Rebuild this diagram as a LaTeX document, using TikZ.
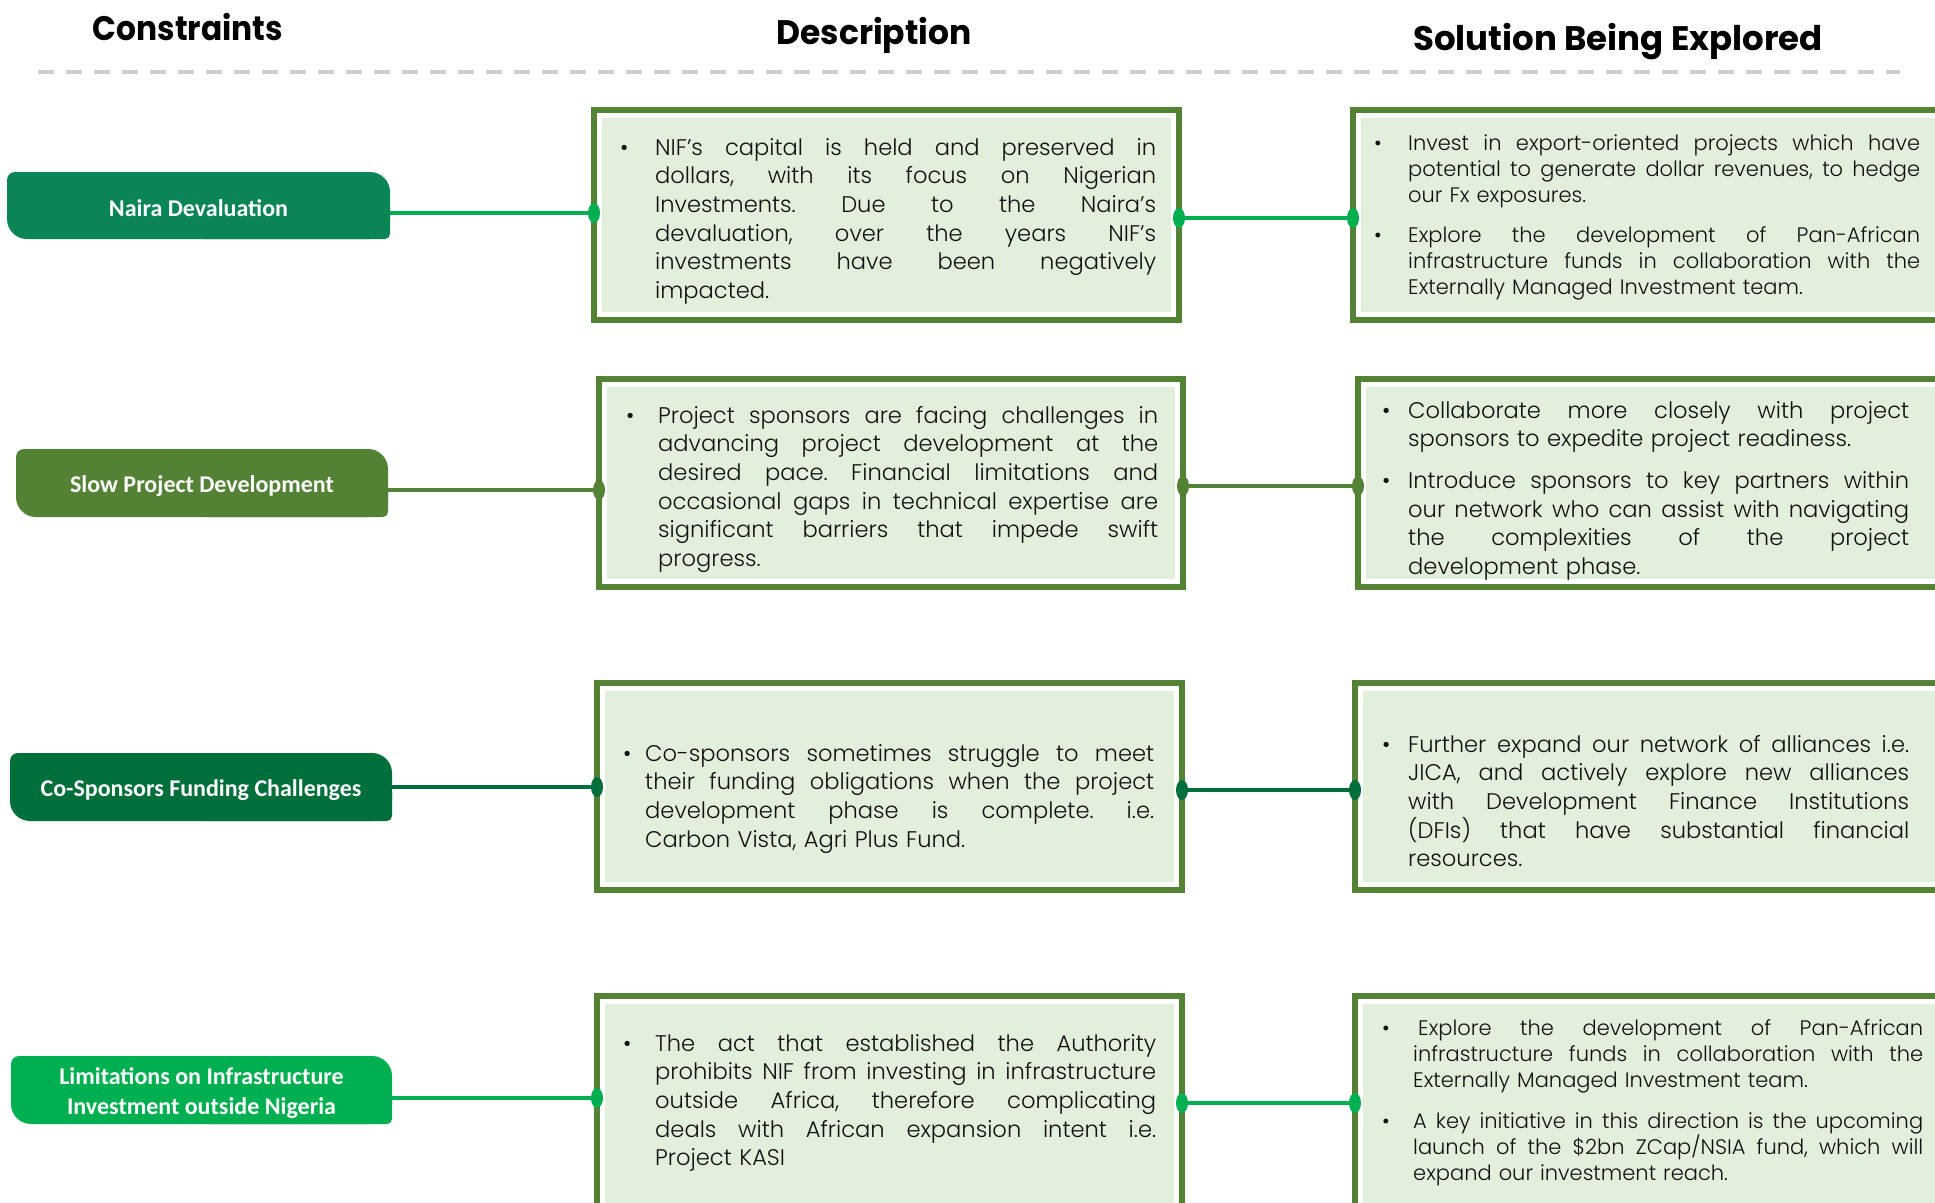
\documentclass[tikz,border=0pt]{standalone}
\usepackage{fontspec}
\usepackage{graphicx}
\setmainfont{Poppins Light}
\newfontfamily\headfont{Poppins}
\newfontfamily\pillfont{Carlito}
\usetikzlibrary{calc}
\pgfdeclarelayer{bg}
\pgfsetlayers{bg,main}
\definecolor{borderg}{HTML}{548235}
\definecolor{fillg}{HTML}{E2EFDA}
\definecolor{brightg}{HTML}{00B050}
\definecolor{darkg}{HTML}{006F3A}
\definecolor{tealg}{HTML}{0A8555}
\definecolor{dashgray}{HTML}{CFCFCF}
\definecolor{txtc}{HTML}{111111}
\hbadness=10000
\hfuzz=20pt
\newlength\hangw
\newlength\textw
\newcommand\bulx{\makebox[\hangw][l]{\textbullet}}
\newcommand\indx{\hspace*{\hangw}}
\newcommand\jst[1]{{\spaceskip=0pt\xspaceskip=0pt\makebox[\textw][s]{#1}}}
\newcommand\setw[2]{\setlength\hangw{#1}\setlength\textw{#2}}
\tikzset{
  gbox/.style={draw=borderg, line width=6pt, fill=white, inner sep=0pt, rectangle},
  pilltxt/.style={inner sep=0pt, text=white, font=\pillfont\bfseries\fontsize{24}{29.5}\selectfont, align=center},
  bodytxt/.style={inner sep=0pt, anchor=base west, align=left, text width=620pt, text=txtc},
  bigtxt/.style={bodytxt, font=\fontsize{22.6}{28.7}\selectfont\frenchspacing},
  smalltxt/.style={bodytxt, font=\fontsize{21}{26}\selectfont\frenchspacing},
  conn/.style={line width=4pt},
  hdr/.style={font=\headfont\bfseries\fontsize{34}{40}\selectfont, inner sep=0pt, text=black},
}
\newcommand\gbx[5]{%
  \node[gbox, minimum width={#4-#2-6}, minimum height={#5-#3-6}] (#1) at ({(#2+#4)/2},{(#3+#5)/2}) {};
  \fill[fillg] ($(#1.north west)+(11,11)$) rectangle ($(#1.south east)+(-11,-11)$);
}
\newcommand\pil[7]{%
  \node[pilltxt, minimum width={#4-#2}] (#1) at ({(#2+#4)/2},{(#3+#5)/2+3}) {#7};
  \begin{pgfonlayer}{bg}
    \fill[#6, rounded corners=20pt] (#2,#3) rectangle (#4,#5);
    \fill[#6, rounded corners=8pt] (#2,#3) rectangle ({(#2+#4)/2},{(#3+#5)/2});
    \fill[#6, rounded corners=5pt] ({(#2+#4)/2},{(#3+#5)/2}) rectangle (#4,#5);
  \end{pgfonlayer}
}
\begin{document}
\begin{tikzpicture}[x=1pt,y=-1pt]
\useasboundingbox (0,0) rectangle (1935,1202);
\begin{pgfonlayer}{bg}
\fill[white] (0,0) rectangle (1935,1202);
\end{pgfonlayer}
\clip (0,0) rectangle (1935,1202);

% headers
\node[hdr] (h1) at (188,27) {\scalebox{0.92}[1]{Constraints}};
\node[hdr] (h2) at (874,35) {\scalebox{0.97}[1]{Description}};
\node[hdr] (h3) at (1618,42) {Solution Being Explored};
\coordinate (dl) at (38,72);
\coordinate (dr) at (1900,72);
\draw[dashgray, line width=4pt, dash pattern=on 16pt off 12pt] (dl) -- (dr);

% pills
\pil{p1}{7}{172}{390}{239}{tealg}{Naira Devaluation}
\pil{p2}{16}{449}{388}{517}{borderg}{Slow Project Development}
\pil{p3}{10}{753}{392}{821}{darkg}{Co-Sponsors Funding Challenges}
\pil{p4}{11}{1056}{392}{1124}{brightg}{Limitations on Infrastructure\\Investment outside Nigeria}

% boxes
\gbx{d1}{591}{107}{1182}{323}
\gbx{s1}{1350}{107}{1965}{323}
\gbx{d2}{596}{376}{1186}{590}
\gbx{s2}{1355}{376}{1965}{590}
\gbx{d3}{594}{680}{1185}{893}
\gbx{s3}{1352}{680}{1965}{893}
\gbx{d4}{594}{993}{1185}{1240}
\gbx{s4}{1352}{993}{1965}{1240}

% connectors
\coordinate (y1a) at (0,213); \coordinate (y1b) at (0,218);
\coordinate (y2a) at (0,490); \coordinate (y2b) at (0,486);
\coordinate (y3a) at (0,787); \coordinate (y3b) at (0,790);
\coordinate (y4a) at (0,1098); \coordinate (y4b) at (0,1103);

\draw[conn, brightg] (p1.east |- y1a) -- (d1.west |- y1a);
\draw[conn, brightg] (d1.east |- y1b) -- (s1.west |- y1b);
\fill[brightg] ($(d1.west |- y1a)+(3,0)$) ellipse (6 and 10);
\fill[brightg] ($(d1.east |- y1b)+(-3,0)$) ellipse (6 and 10);
\fill[brightg] ($(s1.west |- y1b)+(3,0)$) ellipse (6 and 10);

\draw[conn, borderg] (p2.east |- y2a) -- (d2.west |- y2a);
\draw[conn, borderg] (d2.east |- y2b) -- (s2.west |- y2b);
\fill[borderg] ($(d2.west |- y2a)+(3,0)$) ellipse (6 and 10);
\fill[borderg] ($(d2.east |- y2b)+(-3,0)$) ellipse (6 and 10);
\fill[borderg] ($(s2.west |- y2b)+(3,0)$) ellipse (6 and 10);

\draw[conn, darkg] (p3.east |- y3a) -- (d3.west |- y3a);
\draw[conn, darkg] (d3.east |- y3b) -- (s3.west |- y3b);
\fill[darkg] ($(d3.west |- y3a)+(3,0)$) ellipse (6 and 10);
\fill[darkg] ($(d3.east |- y3b)+(-3,0)$) ellipse (6 and 10);
\fill[darkg] ($(s3.west |- y3b)+(3,0)$) ellipse (6 and 10);

\draw[conn, brightg] (p4.east |- y4a) -- (d4.west |- y4a);
\draw[conn, brightg] (d4.east |- y4b) -- (s4.west |- y4b);
\fill[brightg] ($(d4.west |- y4a)+(3,0)$) ellipse (6 and 10);
\fill[brightg] ($(d4.east |- y4b)+(-3,0)$) ellipse (6 and 10);
\fill[brightg] ($(s4.west |- y4b)+(3,0)$) ellipse (6 and 10);

% description texts
\node[bigtxt] (t1) at (620,155) {\setw{35pt}{501pt}%
\bulx\jst{NIF’s capital is held and preserved in}\\
\indx\jst{dollars, with its focus on Nigerian}\\
\indx\jst{Investments. Due to the Naira’s}\\
\indx\jst{devaluation, over the years NIF’s}\\
\indx\jst{investments have been negatively}\\
\indx impacted.};

\node[bigtxt] (t2) at (626,423) {\setw{32pt}{500pt}%
\bulx\jst{Project sponsors are facing challenges in}\\
\indx\jst{advancing project development at the}\\
\indx\jst{desired pace. Financial limitations and}\\
\indx\jst{occasional gaps in technical expertise are}\\
\indx\jst{significant barriers that impede swift}\\
\indx progress.};

\node[bigtxt] (t3) at (623,761) {\setw{22pt}{509pt}%
\bulx\jst{Co-sponsors sometimes struggle to meet}\\
\indx\jst{their funding obligations when the project}\\
\indx\jst{development phase is complete. i.e.}\\
\indx Carbon Vista, Agri Plus Fund.};

\node[bigtxt] (t4) at (623,1051) {\setw{32pt}{501pt}%
\bulx\jst{The act that established the Authority}\\
\indx\jst{prohibits NIF from investing in infrastructure}\\
\indx\jst{outside Africa, therefore complicating}\\
\indx\jst{deals with African expansion intent i.e.}\\
\indx Project KASI};

% solution texts
\node[smalltxt] (u1) at (1374,150) {\setw{34pt}{512pt}%
\bulx\jst{Invest in export-oriented projects which have}\\
\indx\jst{potential to generate dollar revenues, to hedge}\\
\indx our Fx exposures.\\[14pt]
\bulx\jst{Explore the development of Pan-African}\\
\indx\jst{infrastructure funds in collaboration with the}\\
\indx Externally Managed Investment team.};

\node[bigtxt] (u2) at (1382,418) {\setw{26pt}{501pt}%
\bulx\jst{Collaborate more closely with project}\\
\indx sponsors to expedite project readiness.\\[13pt]
\bulx\jst{Introduce sponsors to key partners within}\\
\indx\jst{our network who can assist with navigating}\\
\indx\jst{the complexities of the project}\\
\indx development phase.};

\node[bigtxt] (u3) at (1382,752) {\setw{26pt}{501pt}%
\bulx\jst{Further expand our network of alliances i.e.}\\
\indx\jst{JICA, and actively explore new alliances}\\
\indx\jst{with Development Finance Institutions}\\
\indx\jst{(DFIs) that have substantial financial}\\
\indx resources.};

\node[smalltxt] (u4) at (1382,1035) {\setw{31pt}{510pt}%
\bulx\jst{\hspace*{5pt}Explore the development of Pan-African}\\
\indx\jst{infrastructure funds in collaboration with the}\\
\indx Externally Managed Investment team.\\[15pt]
\bulx\jst{A key initiative in this direction is the upcoming}\\
\indx\jst{launch of the \$2bn ZCap/NSIA fund, which will}\\
\indx expand our investment reach.};
\end{tikzpicture}
\end{document}
